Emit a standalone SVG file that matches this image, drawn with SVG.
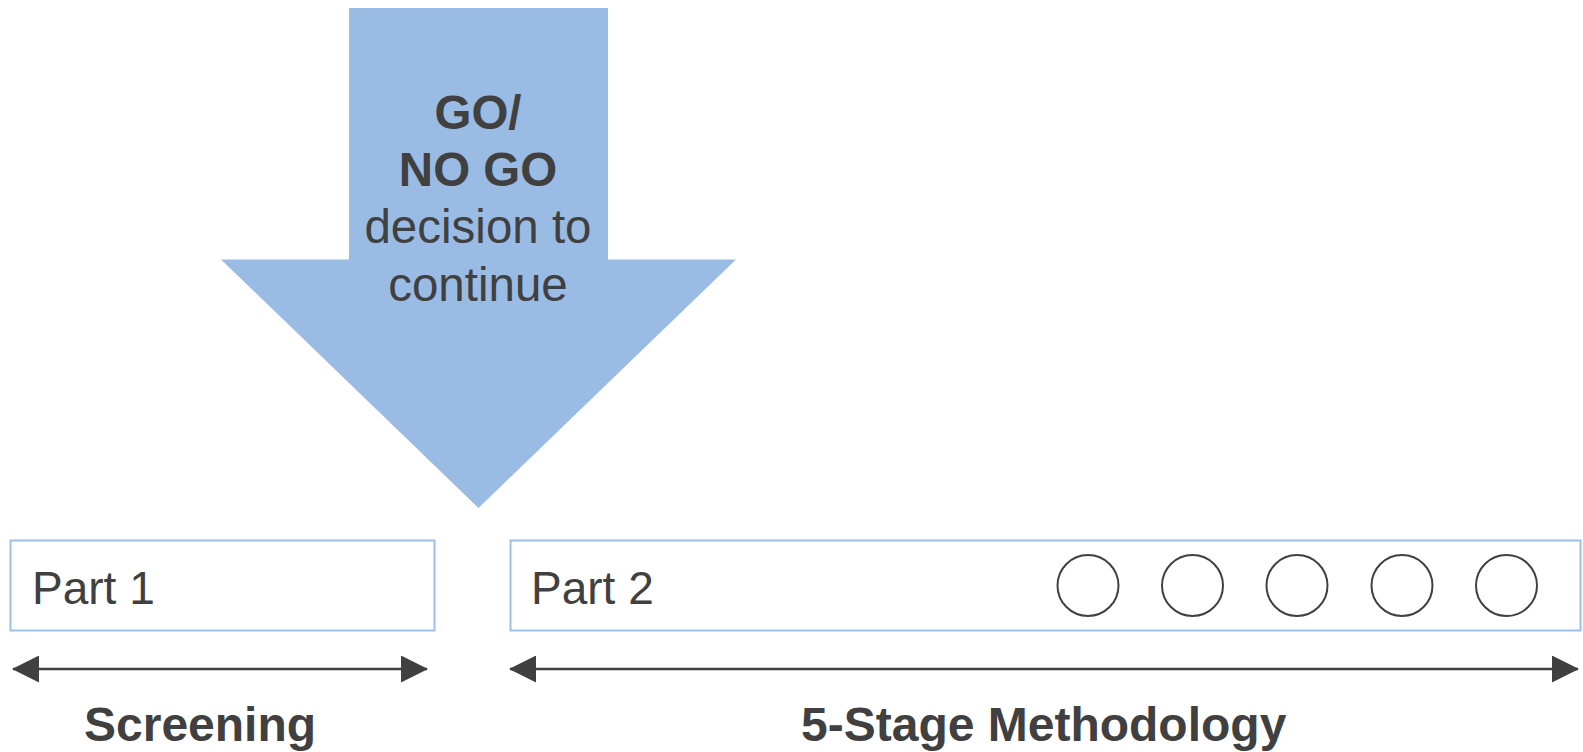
<svg xmlns="http://www.w3.org/2000/svg" width="1583" height="752" viewBox="0 0 1583 752">
  <style>
    .txt { font-family: "Liberation Sans", Arial, sans-serif; fill: #404040; }
    .bold { font-weight: bold; }
    .box { fill: #ffffff; stroke: #9dc0e8; stroke-width: 2; }
    .stage { fill: none; stroke: #404040; stroke-width: 2; }
    .span { stroke: #404040; stroke-width: 2.5; fill: none; }
  </style>
  <defs>
    <marker id="head" viewBox="0 0 27 27" refX="26" refY="13.5" markerWidth="27" markerHeight="27" markerUnits="userSpaceOnUse" orient="auto-start-reverse">
      <path d="M0,0 L27,13.5 L0,27 Z" fill="#404040"/>
    </marker>
  </defs>

  <rect width="1583" height="752" fill="#ffffff"/>

  <!-- decision arrow -->
  <g id="decision">
    <path d="M349,8 H608 V259.5 H736 L478.5,508 L221,259.5 H349 Z" fill="#99bbe4"/>
    <text class="txt bold" x="478" y="128.5" font-size="47.5" text-anchor="middle">GO/</text>
    <text class="txt bold" x="478" y="186" font-size="47.5" text-anchor="middle">NO GO</text>
    <text class="txt" x="478" y="243" font-size="47.5" text-anchor="middle">decision to</text>
    <text class="txt" x="478" y="300.5" font-size="47.5" text-anchor="middle">continue</text>
  </g>

  <!-- part 1 -->
  <g id="part1">
    <rect class="box" x="10.5" y="540.5" width="424" height="90"/>
    <text class="txt" x="32" y="604" font-size="46">Part 1</text>
  </g>

  <!-- part 2 with its five stages -->
  <g id="part2">
    <rect class="box" x="510.5" y="540.5" width="1070" height="90"/>
    <text class="txt" x="531" y="604" font-size="46">Part 2</text>
    <circle class="stage" cx="1088" cy="585.5" r="30.5"/>
    <circle class="stage" cx="1192.5" cy="585.5" r="30.5"/>
    <circle class="stage" cx="1297" cy="585.5" r="30.5"/>
    <circle class="stage" cx="1402" cy="585.5" r="30.5"/>
    <circle class="stage" cx="1506.5" cy="585.5" r="30.5"/>
  </g>

  <!-- span connectors -->
  <g id="connectors">
    <line class="span" x1="13" y1="669" x2="427" y2="669" marker-start="url(#head)" marker-end="url(#head)"/>
    <line class="span" x1="510" y1="669" x2="1578" y2="669" marker-start="url(#head)" marker-end="url(#head)"/>
  </g>

  <!-- span labels -->
  <g id="label-screening">
    <text class="txt bold" x="84" y="741" font-size="48">Screening</text>
  </g>
  <g id="label-methodology">
    <text class="txt bold" x="801" y="741" font-size="48">5-Stage Methodology</text>
  </g>
</svg>
